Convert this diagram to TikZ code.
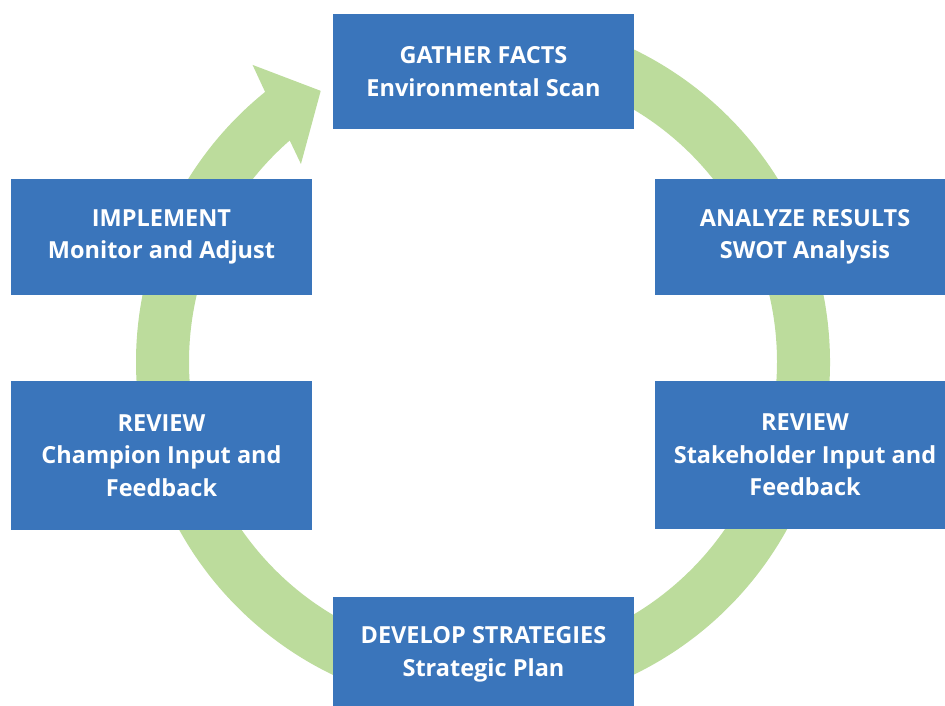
\documentclass[tikz,border=0pt]{standalone}
\usepackage{fontspec}
\setmainfont{Open Sans}
\begin{document}
\definecolor{boxblue}{HTML}{3A75BB}
\definecolor{ringgreen}{HTML}{BCDC9C}
\begin{tikzpicture}[x=1pt,y=1pt,
  stepbox/.style={fill=boxblue, draw=none, inner sep=0pt, text=white,
    align=center, font=\fontsize{23.5}{32.5}\selectfont\bfseries}]
\useasboundingbox (0,0) rectangle (945,706);
\clip (0,0) rectangle (945,706);

% cycle ring with arrowhead, centred at (483,344)
\begin{scope}[shift={(483,344)}]
  \fill[ringgreen]
    (95:347pt) arc[start angle=95, end angle=-231.1, radius=347pt]
    -- (-232.2:376pt) -- (-239.1:316pt) -- (-227.4:269pt)
    -- (-228.9:294pt) arc[start angle=-228.9, end angle=95, radius=294pt]
    -- cycle;
\end{scope}

% process steps
\node[stepbox, minimum width=301pt, minimum height=115pt] (gather) at (483.5,634.5)
  {GATHER FACTS\\Environmental Scan};
\node[stepbox, minimum width=300pt, minimum height=116pt] (analyze) at (805,469)
  {ANALYZE RESULTS\\SWOT Analysis};
\node[stepbox, minimum width=300pt, minimum height=148pt] (stake) at (805,251)
  {REVIEW\\Stakeholder Input and\\Feedback};
\node[stepbox, minimum width=301pt, minimum height=115pt] (develop) at (483.5,51.5)
  {DEVELOP STRATEGIES\\Strategic Plan};
\node[stepbox, minimum width=301pt, minimum height=149pt] (champion) at (161.5,250.5)
  {REVIEW\\Champion Input and\\Feedback};
\node[stepbox, minimum width=301pt, minimum height=116pt] (implement) at (161.5,469)
  {IMPLEMENT\\Monitor and Adjust};
\end{tikzpicture}
\end{document}
